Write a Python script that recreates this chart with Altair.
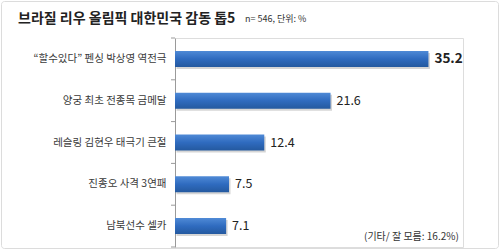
import altair as alt
import pandas as pd

categories = ["“할수있다” 펜싱 박상영 역전극", "양궁 최초 전종목 금메달", "레슬링 김현우 태극기 큰절",
              "진종오 사격 3연패", "남북선수 셀카"]
values = [35.2, 21.6, 12.4, 7.5, 7.1]
title_text = "브라질 리우 올림픽 대한민국 감동 톱5"
sub_text = "n= 546, 단위: %"
note_text = "(기타/ 잘 모름: 16.2%)"

df = pd.DataFrame({"cat": categories, "val": values,
                   "lbl": [f"{v:.1f}" for v in values],
                   "first": [i == 0 for i in range(len(values))],
                   "last": [i == len(values) - 1 for i in range(len(values))]})

PI = 0.617
yscale = alt.Scale(paddingInner=PI, paddingOuter=PI / 2)
xscale = alt.Scale(domain=[0, 40])
font = "Noto Sans CJK KR"
STEP = 209 / 5
HALF = PI * STEP / 2

base = alt.Chart(df)

shadow = base.mark_bar(color="#888888", opacity=0.35, xOffset=1.5, yOffset=2).encode(
    x=alt.X("val:Q", scale=xscale, axis=None),
    y=alt.Y("cat:N", sort=categories, scale=yscale, title=None,
            axis=alt.Axis(ticks=False, labelFontSize=10.5, labelFont=font, labelColor="#3a3a3a",
                          labelPadding=9, domainColor="#9a9a9a", labelLimit=200)),
)

bars = base.mark_bar(
    color=alt.Gradient(gradient="linear", x1=0, y1=0, x2=0, y2=1,
                       stops=[alt.GradientStop(color="#4f8ad6", offset=0),
                              alt.GradientStop(color="#2f6bbf", offset=0.5),
                              alt.GradientStop(color="#24599f", offset=1)])
).encode(
    x=alt.X("val:Q", scale=xscale),
    y=alt.Y("cat:N", sort=categories, scale=yscale),
)

labels_first = base.transform_filter("datum.first").mark_text(
    align="left", baseline="middle", dx=6, font=font, color="#222222",
    fontWeight="bold", fontSize=13.5).encode(
    x=alt.X("val:Q", scale=xscale),
    y=alt.Y("cat:N", sort=categories, scale=yscale),
    text="lbl:N",
)
labels_rest = base.transform_filter("!datum.first").mark_text(
    align="left", baseline="middle", dx=6, font=font, color="#222222",
    fontSize=12.5).encode(
    x=alt.X("val:Q", scale=xscale),
    y=alt.Y("cat:N", sort=categories, scale=yscale),
    text="lbl:N",
)

ticks = base.mark_rule(color="#9a9a9a", yOffset=-HALF).encode(
    y=alt.Y("cat:N", sort=categories, scale=yscale, bandPosition=0),
    x=alt.value(-4), x2=alt.value(0),
)
tick_last = base.transform_filter("datum.last").mark_rule(color="#9a9a9a", yOffset=HALF).encode(
    y=alt.Y("cat:N", sort=categories, scale=yscale, bandPosition=1),
    x=alt.value(-4), x2=alt.value(0),
)

tdf = pd.DataFrame({"t": [title_text]})
title = alt.Chart(tdf).mark_text(align="left", baseline="alphabetic", font=font, fontWeight="bold",
                                 fontSize=14, color="#222222").encode(
    x=alt.value(-157), y=alt.value(-15), text="t:N")
sdf = pd.DataFrame({"t": [sub_text]})
sub = alt.Chart(sdf).mark_text(align="left", baseline="alphabetic", font=font,
                               fontSize=9, color="#333333").encode(
    x=alt.value(70), y=alt.value(-16), text="t:N")
ndf = pd.DataFrame({"t": [note_text]})
note = alt.Chart(ndf).mark_text(align="left", baseline="middle", font=font,
                                fontSize=10, color="#333333").encode(
    x=alt.value(189), y=alt.value(199), text="t:N")

border = alt.Chart(tdf).mark_rect(fill=None, stroke="#dcdcdc", strokeWidth=1, cornerRadius=3).encode(
    x=alt.value(-173.5), x2=alt.value(323.5), y=alt.value(-36.5), y2=alt.value(210.5))

chart = alt.layer(border, shadow, bars, labels_first, labels_rest, ticks, tick_last, title, sub, note).properties(
    width=288, height=209,
    autosize=alt.AutoSizeParams(type="none"),
    padding={"left": 175, "top": 38, "right": 37, "bottom": 3},
).configure_view(stroke=None).configure(background="white")

chart.save("out.html", embed_options={"renderer": "svg", "actions": False})
